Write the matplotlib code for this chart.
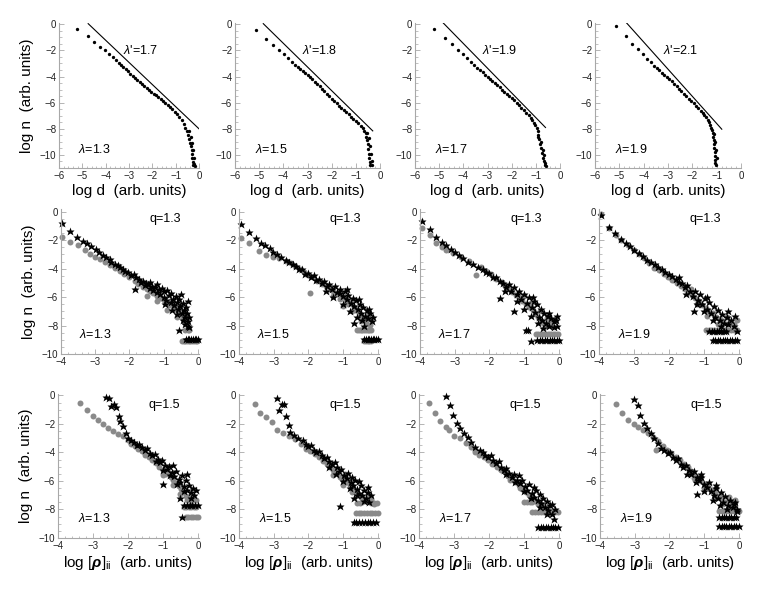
import matplotlib.pyplot as plt
from matplotlib.ticker import MultipleLocator

plt.rcParams['font.family'] = ['Liberation Sans', 'DejaVu Sans']
plt.rcParams['mathtext.fontset'] = 'custom'
plt.rcParams['mathtext.rm'] = 'Liberation Sans'
plt.rcParams['mathtext.it'] = 'Liberation Sans:italic'
plt.rcParams['mathtext.bf'] = 'Liberation Sans:bold:italic'

# ---- top row: log n vs log d, one black series + reference line per panel
lam = ["1.3", "1.5", "1.7", "1.9"]
lam_prime = ["1.7", "1.8", "1.9", "2.1"]

r1c1_x = [-5.21, -4.77, -4.49, -4.24, -4.03, -3.84, -3.70, -3.55,
          -3.45, -3.35, -3.25, -3.15, -3.05, -2.95, -2.85, -2.75, -2.65, -2.55,
          -2.45, -2.35, -2.25, -2.15, -2.05, -1.95, -1.85, -1.75, -1.65, -1.55,
          -1.45, -1.35, -1.25, -1.15, -1.05, -0.95, -0.85, -0.75, -0.65, -0.58,
          -0.52, -0.46, -0.42, -0.38, -0.35, -0.32, -0.30, -0.28, -0.26, -0.24,
          -0.45, -0.35, -0.30, -0.25, -0.22, -0.20, -0.18]
r1c1_y = [-0.37, -0.88, -1.39, -1.77, -2.00, -2.26, -2.52, -2.72,
          -2.98, -3.13, -3.29, -3.45, -3.60, -3.77, -3.93, -4.08, -4.24, -4.40,
          -4.55, -4.70, -4.86, -5.00, -5.15, -5.30, -5.45, -5.60, -5.74, -5.88,
          -6.04, -6.18, -6.33, -6.50, -6.68, -6.90, -7.10, -7.35, -7.62, -7.90,
          -8.15, -8.45, -8.75, -9.05, -9.35, -9.65, -9.95, -10.25, -10.55, -10.80,
          -8.20, -8.60, -9.10, -9.60, -10.20, -10.70, -10.85]

r1c2_x = [-5.14, -4.70, -4.43, -4.19, -3.99, -3.82, -3.65, -3.52, -3.38,
          -3.30, -3.20, -3.10, -3.00, -2.90, -2.80, -2.70, -2.60, -2.50, -2.40,
          -2.30, -2.20, -2.10, -2.00, -1.90, -1.80, -1.70, -1.60, -1.50, -1.40,
          -1.30, -1.20, -1.10, -1.00, -0.90, -0.80, -0.72, -0.65, -0.60, -0.56,
          -0.53, -0.50, -0.48, -0.46, -0.44, -0.42, -0.40,
          -0.55, -0.47, -0.42, -0.38, -0.35, -0.33]
r1c2_y = [-0.43, -1.12, -1.57, -1.95, -2.28, -2.59, -2.89, -3.10, -3.30,
          -3.42, -3.58, -3.74, -3.90, -4.06, -4.22, -4.39, -4.56, -4.73, -4.92,
          -5.12, -5.31, -5.50, -5.69, -5.88, -6.06, -6.23, -6.40, -6.55, -6.72,
          -6.90, -7.07, -7.22, -7.37, -7.55, -7.75, -7.95, -8.15, -8.35, -8.60,
          -8.85, -9.20, -9.55, -9.90, -10.25, -10.55, -10.80,
          -8.30, -8.70, -9.30, -9.90, -10.50, -10.80]

r1c3_x = [-5.20, -4.76, -4.48, -4.23, -4.03, -3.86, -3.70, -3.56, -3.42,
          -3.30, -3.20, -3.10, -3.00, -2.90, -2.80, -2.70, -2.60, -2.50, -2.40,
          -2.30, -2.20, -2.10, -2.00, -1.90, -1.80, -1.70, -1.60, -1.50, -1.40,
          -1.30, -1.22, -1.15, -1.08, -1.02, -0.97, -0.93, -0.89, -0.85, -0.82,
          -0.79, -0.76, -0.72, -0.68, -0.63,
          -0.92, -0.78, -0.72, -0.68, -0.64, -0.58]
r1c3_y = [-0.33, -1.04, -1.54, -1.97, -2.30, -2.61, -2.86, -3.11, -3.32,
          -3.52, -3.68, -3.85, -4.01, -4.17, -4.34, -4.50, -4.67, -4.83, -5.00,
          -5.16, -5.33, -5.49, -5.66, -5.83, -6.01, -6.19, -6.38, -6.57, -6.76,
          -6.96, -7.14, -7.32, -7.52, -7.72, -7.92, -8.15, -8.45, -8.80, -9.15,
          -9.50, -9.85, -10.20, -10.50, -10.80,
          -8.60, -9.00, -9.60, -10.00, -10.60, -10.85]

r1c4_x = [-5.15, -4.74, -4.47, -4.22, -4.04, -3.88, -3.71, -3.58, -3.44,
          -3.35, -3.25, -3.15, -3.05, -2.95, -2.85, -2.75, -2.65, -2.55, -2.45,
          -2.35, -2.25, -2.15, -2.05, -1.95, -1.85, -1.75, -1.65, -1.57, -1.50,
          -1.43, -1.37, -1.31, -1.26, -1.22, -1.19, -1.17, -1.15, -1.13, -1.11,
          -1.09, -1.08, -1.07, -1.06, -1.05,
          -1.10, -1.05, -1.02, -1.00, -1.02]
r1c4_y = [-0.15, -0.89, -1.47, -1.92, -2.30, -2.63, -2.91, -3.16, -3.37,
          -3.52, -3.70, -3.85, -4.00, -4.18, -4.37, -4.55, -4.74, -4.92, -5.11,
          -5.30, -5.49, -5.68, -5.86, -6.04, -6.23, -6.41, -6.60, -6.76, -6.92,
          -7.10, -7.30, -7.50, -7.70, -7.90, -8.10, -8.35, -8.60, -8.85, -9.15,
          -9.45, -9.75, -10.05, -10.35, -10.65,
          -8.40, -9.00, -9.60, -10.20, -10.75]

# reference power-law lines (end points)
line_x = [[-4.75, 0.00], [-4.83, -0.30], [-4.83, -0.60], [-4.70, -0.79]]
line_y = [[0.05, -8.00], [0.05, -8.16], [0.10, -7.90], [0.10, -8.03]]

# ---- middle row (q=1.3): gray circles and black stars
r2c1_gx = [-3.96, -3.74, -3.50, -3.30, -3.16, -3.01, -2.87, -2.72, -2.58, -2.43, -2.29,
           -2.15, -2.00, -1.85, -1.75, -1.60, -1.50, -1.40, -1.30, -1.20, -1.10,
           -1.00, -0.92, -0.85, -0.78, -0.72, -0.65, -0.58, -0.52, -0.48, -0.44,
           -0.40, -0.38, -0.34, -0.30, -0.25,
           -1.50, -1.20, -0.90, -0.60, -0.42,
           -0.47, -0.42, -0.37, -0.32, -0.27, -0.22, -0.17, -0.12, -0.07, -0.02]
r2c1_gy = [-1.80, -2.10, -2.34, -2.69, -2.97, -3.15, -3.32, -3.50, -3.74, -3.97, -4.14,
           -4.35, -4.60, -4.85, -5.05, -5.30, -5.45, -5.60, -5.70, -5.90, -6.05,
           -6.20, -6.40, -6.55, -6.30, -6.70, -6.85, -7.00, -6.60, -7.20, -7.45,
           -7.75, -8.30, -7.30, -8.30, -8.30,
           -5.90, -6.30, -6.90, -7.40, -7.00] + [-9.08] * 10
r2c1_sx = [-3.96, -3.74, -3.53, -3.37, -3.24, -3.11, -2.99, -2.89,
           -2.77, -2.68, -2.58, -2.53, -2.43, -2.35, -2.29, -2.19, -2.12, -2.05, -1.95, -1.88,
           -1.81, -1.83, -1.71, -1.65, -1.61, -1.55, -1.52, -1.45, -1.40, -1.35,
           -1.30, -1.25, -1.20, -1.15, -1.10, -1.05, -1.00, -0.98, -0.93, -0.90,
           -0.85, -0.80, -0.78, -0.72, -0.70, -0.65, -0.62, -0.58, -0.55, -0.52,
           -0.48, -0.45, -0.42, -0.38, -0.35, -0.32, -0.30, -0.55, -0.28, -0.25,
           -0.95, -0.75, -0.60, -0.45, -0.38, -0.25, -1.20, -1.40, -0.50, -0.30,
           -0.35, -0.30, -0.25, -0.20, -0.15, -0.10, -0.05, 0.00]
r2c1_sy = [-0.75, -1.33, -1.75, -2.03, -2.22, -2.41, -2.64, -2.80,
           -3.04, -3.20, -3.35, -3.50, -3.67, -3.75, -3.90, -4.04, -4.15, -4.20, -4.44, -4.38,
           -4.56, -5.42, -4.74, -4.95, -4.84, -5.15, -5.02, -5.10, -5.35, -5.20,
           -5.50, -5.30, -5.65, -5.45, -5.80, -5.35, -6.00, -5.60, -6.20, -5.50,
           -5.85, -6.35, -5.70, -6.10, -6.55, -5.90, -6.35, -6.80, -6.10, -6.60,
           -7.10, -6.40, -6.90, -7.40, -6.70, -7.10, -7.70, -8.30, -8.00, -7.40,
           -6.50, -6.90, -7.20, -7.60, -7.90, -8.10, -5.10, -4.90, -5.80, -6.30] + [-8.95] * 8

r2c2_gx = [-3.95, -3.71, -3.41, -3.22, -3.03, -2.84, -2.65, -2.50,
           -2.38, -2.25, -2.12, -2.00, -1.95, -1.88, -1.75, -1.62, -1.50, -1.38,
           -1.28, -1.18, -1.10, -1.00, -0.92, -0.85, -0.78, -0.70, -0.62, -0.55,
           -0.48, -0.42, -0.35, -0.28, -0.22,
           -1.30, -1.00, -0.75, -0.50, -0.30,
           -0.60, -0.55, -0.50, -0.45, -0.40, -0.35, -0.30, -0.25, -0.20,
           -0.40, -0.35, -0.30, -0.25, -0.20]
r2c2_gy = [-1.82, -2.22, -2.76, -3.04, -3.15, -3.27, -3.43, -3.62,
           -3.80, -4.00, -4.25, -4.45, -5.72, -4.60, -4.85, -5.05, -5.20, -5.45,
           -5.60, -5.80, -6.10, -6.00, -6.30, -6.50, -6.25, -6.70, -6.90, -7.10,
           -7.35, -7.60, -7.80, -7.55, -7.95,
           -5.90, -6.60, -7.00, -7.70, -7.20] + [-8.29] * 9 + [-9.07] * 5
r2c2_sx = [-3.95, -3.71, -3.50, -3.36, -3.24, -3.12, -3.03, -2.91, -2.79, -2.65,
           -2.55, -2.45, -2.35, -2.27, -2.18, -2.10, -2.00, -1.92, -1.85, -1.78,
           -1.70, -1.62, -1.55, -1.48, -1.40, -1.32, -1.25, -1.18, -1.08, -1.10,
           -1.02, -0.95, -0.90, -0.85, -0.78, -0.72, -0.68, -0.62, -0.58, -0.70,
           -0.52, -0.48, -0.42, -0.38, -0.32, -0.28, -0.22, -0.18, -0.45,
           -1.30, -1.00, -0.80, -0.60, -0.40, -0.25, -0.15, -0.55, -0.90, -1.50,
           -0.40, -0.35, -0.30, -0.25, -0.20, -0.15, -0.10, -0.05, 0.00]
r2c2_sy = [-0.82, -1.45, -1.87, -2.22, -2.34, -2.52, -2.80, -2.99, -3.15, -3.39,
           -3.50, -3.70, -3.80, -4.05, -4.05, -4.35, -4.30, -4.55, -4.45, -4.80,
           -4.70, -5.00, -4.85, -5.25, -5.05, -5.45, -5.25, -5.65, -5.72, -5.40,
           -5.90, -5.60, -6.15, -5.85, -6.40, -6.05, -6.60, -6.20, -6.85, -7.83,
           -6.45, -7.10, -6.70, -7.30, -6.90, -7.50, -7.10, -7.70, -7.60,
           -6.00, -6.50, -7.00, -7.40, -8.00, -6.80, -7.40, -6.10, -5.40, -5.60] + [-8.95] * 9

r2c3_gx = [-3.95, -3.71, -3.54, -3.38, -3.24, -3.05, -2.81, -2.60, -2.38,
           -2.25, -2.10, -1.95, -1.80, -1.65, -1.55, -1.45, -1.35, -1.25, -1.15,
           -1.05, -0.95, -0.85, -0.75, -0.68, -0.60, -0.52, -0.45, -0.38, -0.30,
           -1.00, -0.80, -0.55, -0.35, -0.20, -0.10,
           -0.67, -0.60, -0.53, -0.46, -0.39, -0.32, -0.25, -0.18, -0.11, -0.04]
r2c3_gy = [-1.17, -1.64, -2.22, -2.45, -2.69, -2.92, -3.15, -3.45, -4.44,
           -3.90, -4.15, -4.40, -4.70, -4.95, -5.25, -5.40, -5.65, -5.85, -6.00,
           -6.25, -6.45, -6.70, -6.90, -7.20, -7.40, -7.65, -7.85, -8.05, -7.80,
           -5.90, -6.40, -7.00, -7.50, -8.00, -7.60] + [-8.60] * 10
r2c3_sx = [-3.95, -3.71, -3.54, -3.38, -3.24, -3.11, -3.00, -2.88, -2.76, -2.62, -2.48, -2.33,
           -2.20, -2.10, -2.00, -1.90, -1.80, -1.71, -1.70, -1.60, -1.52, -1.45,
           -1.38, -1.29, -1.30, -1.22, -1.15, -1.08, -1.00, -0.95, -0.92, -0.85,
           -0.81, -0.78, -0.72, -0.68, -0.62, -0.58, -0.52, -0.48, -0.42, -0.38,
           -0.32, -0.28, -0.22, -0.15, -0.08, -0.05, -0.88,
           -1.20, -1.00, -0.80, -0.60, -0.45, -0.30, -0.15, -0.05, -1.55, -0.75,
           -0.62, -0.55, -0.48, -0.41, -0.34, -0.27, -0.20, -0.13, -0.06, 0.00]
r2c3_sy = [-0.63, -1.24, -1.75, -2.10, -2.34, -2.62, -2.80, -3.04, -3.22, -3.50, -3.67, -3.86,
           -4.00, -4.20, -4.30, -4.55, -4.60, -6.07, -4.85, -5.00, -5.30, -5.10,
           -5.55, -7.00, -5.30, -5.80, -5.55, -6.10, -5.80, -8.29, -6.40, -6.00,
           -9.11, -6.70, -6.25, -7.05, -6.50, -7.40, -6.80, -7.60, -7.10, -7.80,
           -7.30, -8.00, -7.50, -7.70, -7.60, -8.00, -8.29,
           -6.30, -6.80, -7.30, -7.80, -8.20, -7.10, -8.10, -7.30, -5.60, -6.00] + [-9.04] * 10

r2c4_gx = [-3.95, -3.70, -3.51, -3.37, -3.18, -2.99, -2.85, -2.70, -2.56, -2.42,
           -2.28, -2.15, -2.02, -1.90, -1.78, -1.65, -1.55, -1.38, -1.45, -1.35,
           -1.25, -1.15, -1.05, -0.95, -0.85, -0.75, -0.65, -0.55, -0.45, -0.35,
           -0.25, -0.15,
           -1.20, -0.90, -0.60, -0.30, -0.05,
           -0.95, -0.87, -0.79, -0.71, -0.63, -0.55, -0.47, -0.39, -0.31, -0.23, -0.15, -0.07]
r2c4_gy = [-0.14, -1.13, -1.60, -1.95, -2.30, -2.65, -3.00, -3.24, -3.59, -3.94,
           -4.10, -4.35, -4.55, -4.80, -5.00, -5.20, -5.45, -5.42, -5.65, -5.85,
           -6.05, -6.30, -6.55, -6.75, -7.00, -7.15, -7.40, -7.55, -7.70, -7.40,
           -7.75, -7.90,
           -6.50, -7.30, -7.90, -7.90, -7.60] + [-8.33] * 12
r2c4_sx = [-3.95, -3.70, -3.53, -3.37, -3.22, -3.11, -2.99, -2.87, -2.75, -2.64, -2.52,
           -2.40, -2.30, -2.20, -2.10, -2.00, -1.90, -1.80, -1.72, -1.62, -1.55,
           -1.48, -1.40, -1.32, -1.29, -1.25, -1.18, -1.12, -1.05, -0.98, -0.92,
           -0.85, -0.80, -0.72, -0.68, -0.60, -0.55, -0.48, -0.42, -0.35, -0.30,
           -0.22, -0.15,
           -1.50, -1.20, -1.00, -0.75, -0.50, -0.30, -0.10, -0.05, -1.70, -0.90,
           -0.85, -0.78, -0.71, -0.64, -0.57, -0.50, -0.43, -0.36,
           -0.75, -0.68, -0.61, -0.54, -0.47, -0.40, -0.33, -0.26, -0.19, -0.12, -0.05]
r2c4_sy = [-0.19, -1.08, -1.48, -1.90, -2.18, -2.42, -2.65, -2.89, -3.12, -3.36, -3.54,
           -3.70, -3.90, -4.00, -4.25, -4.40, -4.50, -4.75, -4.95, -5.00, -5.30,
           -5.15, -5.55, -5.90, -7.00, -5.60, -6.20, -5.80, -6.50, -6.05, -6.80,
           -6.35, -7.10, -6.60, -7.40, -6.90, -7.60, -7.20, -7.80, -7.40, -7.90,
           -7.60, -8.00,
           -5.80, -6.50, -7.00, -7.60, -8.00, -7.00, -7.30, -8.40, -4.60, -6.00] + [-8.36] * 8 + [-9.00] * 11

# ---- bottom row (q=1.5)
r3c1_gx = [-3.36, -3.18, -3.00, -2.86, -2.72, -2.58, -2.44, -2.29, -2.15, -2.00, -1.92,
           -1.80, -1.70, -1.60, -1.50, -1.40, -1.30, -1.20, -1.10, -1.00, -0.92,
           -0.85, -0.78, -0.70, -0.62, -0.55, -0.48, -0.42, -0.35, -0.30, -0.25,
           -1.00, -0.70, -0.50, -0.20, -0.05,
           -0.40, -0.33, -0.26, -0.19, -0.12, -0.05,
           -0.35, -0.28, -0.21, -0.14, -0.07, 0.00]
r3c1_gy = [-0.52, -1.04, -1.41, -1.69, -2.00, -2.28, -2.52, -2.68, -2.87, -3.10, -3.40,
           -3.55, -3.75, -3.90, -4.15, -4.35, -4.55, -4.75, -5.00, -5.20, -5.50,
           -5.35, -5.75, -5.95, -6.15, -6.35, -6.55, -6.80, -7.05, -7.30, -7.10,
           -5.60, -6.30, -6.90, -7.50, -7.30] + [-7.82] * 6 + [-8.50] * 6
r3c1_sx = [-2.63, -2.55, -2.48, -2.40, -2.34, -2.27, -2.23, -2.15, -2.06, -2.01, -1.91,
           -1.82, -1.75, -1.68, -1.60, -1.52, -1.45, -1.38, -1.30, -1.22, -1.15,
           -1.08, -1.02, -0.99, -0.95, -0.88, -0.82, -0.75, -0.68, -0.62, -0.55,
           -0.50, -0.45, -0.40, -0.35, -0.30, -0.25, -0.20, -0.15, -0.10, -0.45,
           -1.20, -1.00, -0.80, -0.60, -0.40, -0.20, -0.70, -0.30, -0.05, -0.50,
           -0.40, -0.32, -0.24, -0.16, -0.08, 0.00]
r3c1_sy = [-0.09, -0.20, -0.71, -0.60, -0.80, -1.46, -1.81, -2.16, -2.64, -2.99, -3.11,
           -3.30, -3.45, -3.40, -3.65, -3.80, -3.70, -4.05, -4.20, -4.10, -4.45,
           -4.65, -4.50, -6.21, -4.90, -5.15, -4.95, -5.40, -5.65, -5.30, -5.85,
           -6.10, -5.60, -6.35, -5.95, -6.60, -6.25, -6.80, -6.50, -7.00, -8.50,
           -4.60, -5.20, -5.60, -6.20, -6.70, -7.20, -4.90, -5.50, -6.60, -7.20] + [-7.69] * 6

r3c2_gx = [-3.55, -3.39, -3.22, -3.05, -2.91, -2.74, -2.55, -2.38, -2.22, -2.08,
           -1.95, -1.82, -1.70, -1.58, -1.48, -1.38, -1.28, -1.18, -1.10, -1.02,
           -0.95, -0.88, -0.80, -0.72, -0.65, -0.58, -0.50, -0.42, -0.35, -0.28, -0.20,
           -1.30, -1.00, -0.75, -0.45, -0.10,
           -0.60, -0.52, -0.20, -0.12, -0.04,
           -0.64, -0.56, -0.48, -0.40, -0.32, -0.24, -0.16, -0.08, 0.00]
r3c2_gy = [-0.63, -1.24, -1.52, -1.87, -2.45, -2.64, -2.85, -3.04, -3.39, -3.74,
           -3.90, -4.10, -4.35, -4.60, -4.80, -5.00, -5.20, -5.45, -5.70, -5.90,
           -5.50, -6.10, -6.30, -6.50, -6.75, -6.95, -7.10, -7.25, -7.40, -7.00, -7.30,
           -5.60, -6.30, -6.80, -7.50, -7.60] + [-7.55] * 5 + [-8.25] * 9
r3c2_sx = [-2.91, -2.76, -2.70, -2.84, -2.65, -2.57, -2.52, -2.41, -2.29, -2.17,
           -2.08, -2.00, -1.92, -1.85, -1.78, -1.70, -1.62, -1.55, -1.48, -1.40,
           -1.32, -1.25, -1.18, -1.10, -1.12, -1.05, -0.98, -0.90, -0.85, -0.78,
           -0.72, -0.66, -0.60, -0.55, -0.50, -0.45, -0.40, -0.35, -0.30, -0.25, -0.70,
           -1.40, -1.20, -1.00, -0.80, -0.60, -0.40, -0.20, -0.55, -0.30, -0.75,
           -0.70, -0.62, -0.54, -0.46, -0.38, -0.30, -0.22, -0.14, -0.06]
r3c2_sy = [-0.16, -0.58, -0.63, -1.05, -1.47, -2.10, -2.57, -2.80, -2.99, -3.15,
           -3.40, -3.55, -3.50, -3.80, -3.95, -3.90, -4.20, -4.40, -4.30, -4.60,
           -4.80, -4.70, -5.05, -7.78, -5.30, -5.15, -5.55, -5.80, -5.45, -6.05,
           -6.30, -5.95, -6.55, -6.85, -6.25, -7.00, -6.60, -7.20, -6.80, -7.45, -7.20,
           -5.00, -5.50, -6.00, -6.50, -7.00, -7.40, -7.00, -6.00, -6.40, -5.70] + [-8.88] * 9

r3c3_gx = [-3.72, -3.53, -3.39, -3.24, -3.13, -2.99, -2.84, -2.65, -2.51,
           -2.40, -2.28, -2.15, -2.02, -1.90, -1.78, -1.66, -1.55, -1.45, -1.35,
           -1.25, -1.15, -1.05, -0.95, -0.85, -0.75, -0.65, -0.55, -0.45,
           -1.40, -1.10, -0.80, -0.60, -0.30,
           -1.00, -0.92, -0.84, -0.76,
           -0.76, -0.68, -0.60, -0.52, -0.44, -0.36, -0.28, -0.20, -0.12, -0.04]
r3c3_gy = [-0.54, -1.24, -1.76, -2.18, -2.46, -2.84, -3.00, -3.36, -3.59,
           -3.95, -4.20, -4.35, -4.55, -4.80, -5.05, -5.25, -5.40, -5.65, -5.85,
           -6.05, -6.30, -6.55, -6.75, -7.00, -7.20, -7.40, -7.55, -7.70,
           -5.90, -6.50, -7.20, -7.60, -7.80] + [-7.46] * 4 + [-8.17] * 10
r3c3_sx = [-3.22, -3.10, -3.03, -2.92, -2.82, -2.70, -2.61, -2.51, -2.39, -2.27,
           -2.18, -2.10, -2.02, -1.95, -1.88, -1.80, -1.72, -1.65, -1.58, -1.50,
           -1.42, -1.35, -1.28, -1.20, -1.12, -1.05, -0.98, -0.90, -0.85, -0.78,
           -0.72, -0.66, -0.60, -0.55, -0.50, -0.45, -0.40, -0.35, -0.30, -0.25, -0.20, -0.14,
           -1.50, -1.25, -1.00, -0.80, -0.55, -0.35, -0.20, -0.10, -0.70, -1.15,
           -0.59, -0.52, -0.45, -0.38, -0.31, -0.24, -0.17, -0.10, -0.03]
r3c3_sy = [-0.07, -0.66, -1.36, -1.95, -2.30, -2.65, -2.93, -3.24, -3.59, -3.83,
           -4.00, -4.15, -4.30, -4.20, -4.55, -4.75, -4.60, -5.00, -5.25, -5.10,
           -5.45, -5.70, -5.50, -5.90, -6.15, -5.90, -6.35, -6.60, -6.20, -6.85,
           -7.10, -6.60, -7.35, -6.90, -7.55, -7.20, -7.80, -7.40, -8.05, -7.70, -8.30, -8.64,
           -5.50, -6.10, -6.70, -7.20, -7.80, -8.30, -7.60, -8.00, -6.40, -5.60] + [-9.23] * 9

r3c4_gx = [-3.54, -3.38, -3.19, -3.03, -2.90, -2.76, -2.62, -2.48, -2.38,
           -2.32, -2.20, -2.08, -1.95, -1.82, -1.70, -1.58, -1.48, -1.38, -1.28,
           -1.18, -1.08, -0.98, -0.88, -0.78, -0.68, -0.58, -0.48, -0.38, -0.30, -0.20, -0.10,
           -1.30, -1.00, -0.70, -0.45, -0.25,
           -0.57, -0.50, -0.43, -0.36, -0.29, -0.22, -0.15, -0.08, -0.01]
r3c4_gy = [-0.63, -1.24, -1.75, -1.99, -2.22, -2.45, -2.64, -2.92, -3.86,
           -3.20, -3.55, -3.80, -4.05, -4.30, -4.55, -4.80, -5.05, -5.30, -5.55,
           -5.75, -6.00, -6.20, -6.45, -6.65, -6.85, -7.05, -7.25, -7.45, -7.15, -7.50, -7.30,
           -5.80, -6.50, -7.10, -7.60, -7.80] + [-8.10] * 9
r3c4_sx = [-3.03, -2.92, -2.85, -2.74, -2.65, -2.54, -2.45, -2.33, -2.24,
           -2.15, -2.05, -1.98, -1.90, -1.82, -1.75, -1.68, -1.60, -1.52, -1.45,
           -1.38, -1.30, -1.22, -1.22, -1.15, -1.08, -1.00, -0.92, -0.86, -0.80,
           -0.72, -0.66, -0.60, -0.52, -0.46, -0.40, -0.32, -0.25, -0.18, -0.10, -0.05,
           -1.50, -1.25, -1.00, -0.75, -0.55, -0.35, -0.15, -0.05, -0.65, -1.10,
           -0.57, -0.50, -0.43, -0.36, -0.29, -0.22, -0.15, -0.08,
           -0.57, -0.50, -0.43, -0.36, -0.29, -0.22, -0.15, -0.08, -0.01]
r3c4_sy = [-0.23, -0.70, -1.40, -1.92, -2.29, -2.64, -2.99, -3.34, -3.67,
           -3.85, -4.05, -3.95, -4.30, -4.55, -4.40, -4.80, -5.00, -4.85, -5.25,
           -5.50, -5.30, -6.89, -5.70, -5.95, -5.70, -6.20, -6.45, -6.10, -6.70,
           -6.95, -6.50, -7.20, -6.80, -7.45, -7.05, -7.70, -7.30, -7.85, -7.50, -7.95,
           -5.50, -6.10, -6.70, -7.30, -7.70, -8.00, -7.60, -8.10, -6.30, -5.50] + [-8.53] * 8 + [-9.18] * 9

top = [(r1c1_x, r1c1_y), (r1c2_x, r1c2_y), (r1c3_x, r1c3_y), (r1c4_x, r1c4_y)]
mid = [(r2c1_gx, r2c1_gy, r2c1_sx, r2c1_sy), (r2c2_gx, r2c2_gy, r2c2_sx, r2c2_sy),
       (r2c3_gx, r2c3_gy, r2c3_sx, r2c3_sy), (r2c4_gx, r2c4_gy, r2c4_sx, r2c4_sy)]
bot = [(r3c1_gx, r3c1_gy, r3c1_sx, r3c1_sy), (r3c2_gx, r3c2_gy, r3c2_sx, r3c2_sy),
       (r3c3_gx, r3c3_gy, r3c3_sx, r3c3_sy), (r3c4_gx, r3c4_gy, r3c4_sx, r3c4_sy)]

W, H = 763, 592
fig = plt.figure(figsize=(W / 100, H / 100), dpi=100)

# panel boxes in pixels: (left, right, top, bottom)
boxes = [
    [(59, 199, 23, 168), (235, 380, 23, 168), (415, 560, 23, 168), (595, 741, 23, 168)],
    [(61, 199, 209, 354), (239, 379, 209, 354), (420, 560, 209, 354), (599, 740, 209, 354)],
    [(58, 199, 394, 538), (239, 379, 394, 538), (419, 560, 394, 538), (600, 740, 394, 538)],
]

spine_col = "#a8a8a8"
gray = "#8a8a8a"


def make_ax(box):
    l, r, t, b = box
    ax = fig.add_axes([l / W, 1 - b / H, (r - l) / W, (b - t) / H])
    for s in ["top", "right"]:
        ax.spines[s].set_visible(False)
    for s in ["left", "bottom"]:
        ax.spines[s].set_color(spine_col)
        ax.spines[s].set_linewidth(0.8)
    ax.tick_params(which="both", direction="in", color=spine_col, labelsize=7,
                   labelcolor="#222222", pad=2)
    ax.tick_params(which="major", length=3.5, width=0.6)
    ax.tick_params(which="minor", length=1.8, width=0.5)
    ax.yaxis.set_major_locator(MultipleLocator(2))
    ax.yaxis.set_minor_locator(MultipleLocator(0.5))
    ax.xaxis.set_major_locator(MultipleLocator(1))
    ax.xaxis.set_minor_locator(MultipleLocator(0.2))
    ax.patch.set_alpha(0)
    return ax


rho_label = r"log $[\mathbf{\rho}]_{\rm ii}$  (arb. units)"

for j in range(4):
    # top row
    ax = make_ax(boxes[0][j])
    x, y = top[j]
    ax.plot(line_x[j], line_y[j], color="black", lw=0.8, clip_on=True)
    ax.plot(x, y, "o", ms=2.4, color="black", mec="none", clip_on=False)
    ax.set_xlim(-6, 0)
    ax.set_ylim(-11, 0.1)
    ax.text(-2.5, -2.0, r"$\lambda$'=" + lam_prime[j], fontsize=9, ha="center", va="center")
    ax.text(-4.5, -9.6, r"$\lambda$=" + lam[j], fontsize=9, ha="center", va="center")
    ax.set_xlabel("log d  (arb. units)", fontsize=11, labelpad=2)
    if j == 0:
        ax.set_ylabel("log n  (arb. units)", fontsize=11, labelpad=4)

    # middle row
    ax = make_ax(boxes[1][j])
    gx, gy, sx, sy = mid[j]
    ax.plot(gx, gy, "o", ms=4.3, color=gray, mec="none", clip_on=False)
    ax.plot(sx, sy, "*", ms=6.3, color="black", mec="none", clip_on=False)
    ax.set_xlim(-4, 0.03)
    ax.set_ylim(-10, 0.2)
    ax.text(-0.95, -0.5, "q=1.3", fontsize=9, ha="center", va="center")
    ax.text(-3.0, -8.6, r"$\lambda$=" + lam[j], fontsize=9, ha="center", va="center")
    if j == 0:
        ax.set_ylabel("log n  (arb. units)", fontsize=11, labelpad=4)

    # bottom row
    ax = make_ax(boxes[2][j])
    gx, gy, sx, sy = bot[j]
    ax.plot(gx, gy, "o", ms=4.3, color=gray, mec="none", clip_on=False)
    ax.plot(sx, sy, "*", ms=6.3, color="black", mec="none", clip_on=False)
    ax.set_xlim(-4, 0.03)
    ax.set_ylim(-10, 0.1)
    ax.text(-0.95, -0.7, "q=1.5", fontsize=9, ha="center", va="center")
    ax.text(-2.95, -8.6, r"$\lambda$=" + lam[j], fontsize=9, ha="center", va="center")
    ax.set_xlabel(rho_label, fontsize=11, labelpad=2)
    if j == 0:
        ax.set_ylabel("log n  (arb. units)", fontsize=11, labelpad=4)

fig.savefig("out.png", dpi=100)
